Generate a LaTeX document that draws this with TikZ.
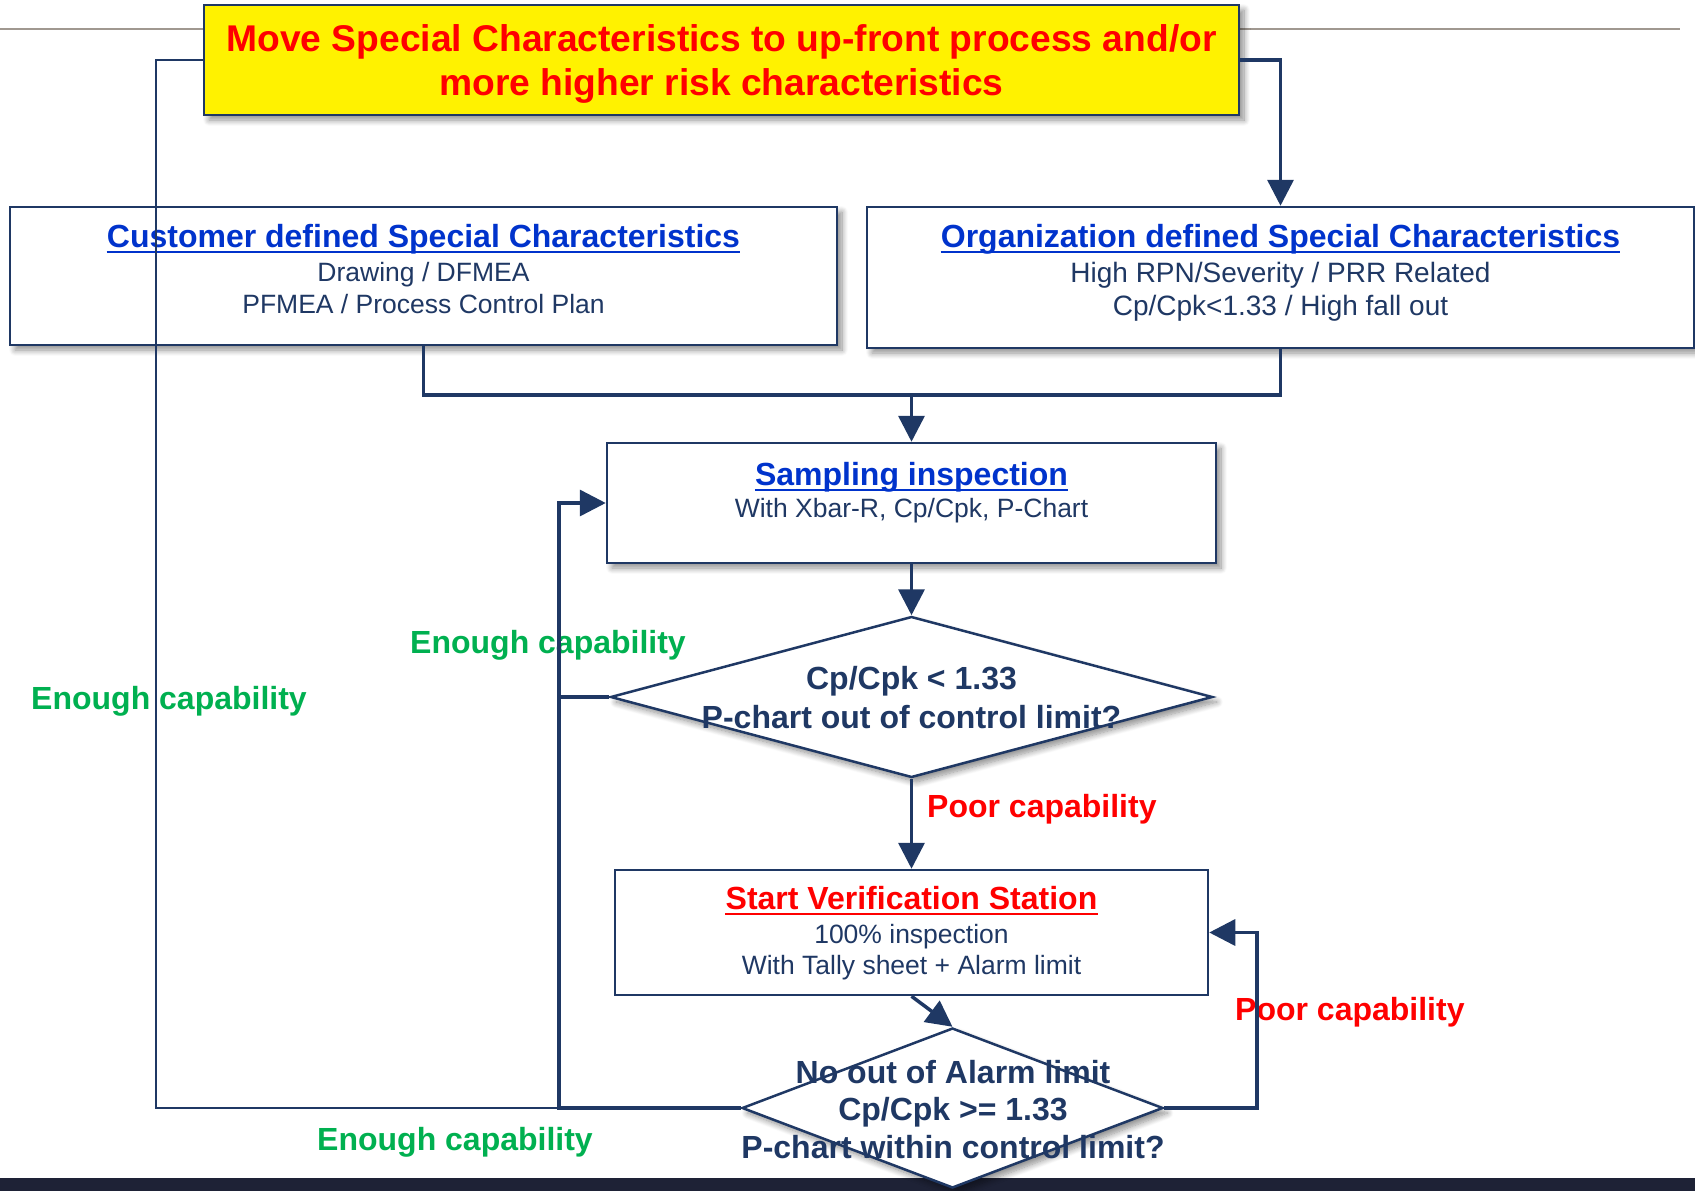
\documentclass[tikz,border=0pt]{standalone}
\usepackage{fontspec}
\setmainfont{Liberation Sans}
\usetikzlibrary{arrows.meta,shapes.geometric,shadows.blur}

\definecolor{navy}{RGB}{31,56,100}
\definecolor{linkblue}{RGB}{0,51,204}
\definecolor{okgreen}{RGB}{0,176,80}
\definecolor{alertred}{RGB}{255,0,0}
\definecolor{rulegray}{RGB}{160,152,144}
\definecolor{barnavy}{RGB}{30,34,54}

% underline a heading node at a fixed depth below its baseline
\newcommand\headrule[2]{%
  \draw[#2,line width=2.2pt] ([yshift=-5pt]#1.base west) -- ([yshift=-5pt]#1.base east);}

\begin{document}
\begin{tikzpicture}[x=1pt,y=-1pt,
  box/.style={draw=navy,line width=2.5pt,fill=white,rectangle,inner sep=0pt},
  shade/.style={blur shadow={shadow xshift=5pt,shadow yshift=-5pt,
      shadow blur steps=10,shadow blur radius=6pt,shadow opacity=45}},
  decision/.style={draw=navy,line width=2.5pt,fill=white,diamond,inner sep=0pt},
  flow/.style={draw=navy,line width=3.5pt,-{Triangle[length=26pt,width=26pt]}},
  link/.style={draw=navy,line width=3.5pt},
  thinlink/.style={draw=navy,line width=2pt},
  txt/.style={inner sep=0pt,anchor=base,text=navy,font=\fontsize{26.5}{30}\selectfont},
  bigtxt/.style={txt,font=\fontsize{28}{32}\selectfont},
  head/.style={inner sep=0pt,anchor=base,font=\fontsize{32}{38}\selectfont\bfseries},
  dtxt/.style={head,text=navy},
  note/.style={inner sep=0pt,anchor=base west,font=\fontsize{32}{38}\selectfont\bfseries},
  titletxt/.style={inner sep=0pt,anchor=base,text=alertred,font=\fontsize{37.2}{44}\selectfont\bfseries}
]
\useasboundingbox (0,0) rectangle (1695,1191);

% page furniture
\draw[rulegray,line width=2pt] (0,29) -- (1680,29);
\fill[barnavy] (0,1178) rectangle (1695,1191);

% boxes
\node[box,shade,fill=yellow,minimum width=1035pt,minimum height=110pt] (top) at (721.5,60) {};
\node[box,shade,minimum width=827pt,minimum height=138pt] (cust) at (423.5,276) {};
\node[box,shade,minimum width=827pt,minimum height=141pt] (org) at (1280.5,277.5) {};
\node[box,shade,minimum width=609pt,minimum height=120pt] (samp) at (911.5,503) {};
\node[box,minimum width=593pt,minimum height=125pt] (verif) at (911.5,932.5) {};
\node[decision,shade,minimum width=602pt,minimum height=161pt] (dia1) at (911.5,697) {};
\node[decision,shade,minimum width=421pt,minimum height=160pt] (dia2) at (952.5,1108) {};

% box texts
\node[titletxt] (t1) at (721.5,51) {Move Special Characteristics to up-front process and/or};
\node[titletxt] (t2) at (721.5,95) {more higher risk characteristics};

\node[head,text=linkblue] (custhead) at (423.5,247) {Customer defined Special Characteristics};
\headrule{custhead}{linkblue}
\node[txt] (cust1) at (423.5,281) {Drawing / DFMEA};
\node[txt] (cust2) at (423.5,313) {PFMEA / Process Control Plan};

\node[head,text=linkblue] (orghead) at (1280.5,247) {Organization defined Special Characteristics};
\headrule{orghead}{linkblue}
\node[bigtxt] (org1) at (1280.5,282) {High RPN/Severity / PRR Related};
\node[bigtxt] (org2) at (1280.5,315) {Cp/Cpk<1.33 / High fall out};

\node[head,text=linkblue] (samphead) at (911.5,485) {Sampling inspection};
\headrule{samphead}{linkblue}
\node[txt] (samp1) at (911.5,517) {With Xbar-R, Cp/Cpk, P-Chart};

\node[head,text=alertred] (verifhead) at (911.5,909) {Start Verification Station};
\headrule{verifhead}{alertred}
\node[txt] (verif1) at (911.5,943) {100\% inspection};
\node[txt] (verif2) at (911.5,974) {With Tally sheet + Alarm limit};

\node[dtxt] (d1a) at (911.5,689) {Cp/Cpk < 1.33};
\node[dtxt] (d1b) at (911.5,728) {P-chart out of control limit?};
\node[dtxt] (d2a) at (953,1083) {No out of Alarm limit};
\node[dtxt] (d2b) at (953,1120) {Cp/Cpk >= 1.33};
\node[dtxt] (d2c) at (953,1158) {P-chart within control limit?};

% branch labels
\node[note,text=okgreen] (ok1) at (410,653) {Enough capability};
\node[note,text=okgreen] (ok2) at (31,709) {Enough capability};
\node[note,text=okgreen] (ok3) at (317,1150) {Enough capability};
\node[note,text=alertred] (poor1) at (927,817) {Poor capability};
\node[note,text=alertred] (poor2) at (1235,1020) {Poor capability};

% connectors
\coordinate (mj) at (911.5,395);
\coordinate (loopL) at (559,1108);
\coordinate (outerL) at (156,1108);
\coordinate (loopR) at (1257,1108);

\draw[flow] (top.east) -| (org.north);
\draw[link] (cust.south) |- (mj) -| (org.south);
\draw[flow] (mj) -- (samp.north);
\draw[flow] (samp.south) -- (dia1.north);
\draw[flow] (dia1.south) -- (verif.north);
\draw[flow] (verif.south) -- (dia2.north);
\draw[flow] (dia2.east) -- (loopR) |- (verif.east);
\draw[thinlink] (loopL) -- (outerL) |- (top.west);
\draw[flow] (dia2.west) -- (loopL) |- (samp.west);
\draw[link] (dia1.west) -- (loopL |- dia1.west);
\end{tikzpicture}
\end{document}
